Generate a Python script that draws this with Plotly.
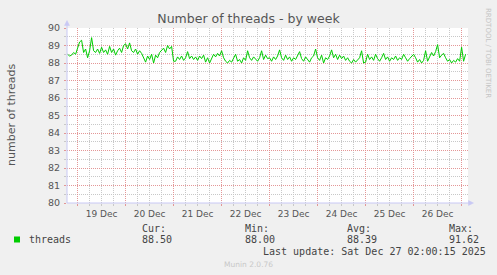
import plotly.graph_objects as go
import pandas as pd

# ---------------- data ----------------
series_name = "threads"
title_text = "Number of threads - by week"
y_title = "number of threads"
start_time = "2025-12-18 19:00"
values = [
    88.5, 88.4, 88.45, 88.6, 88.5,
    88.9, 89.2, 89.3, 88.6, 88.8, 88.3, 88.7, 89.45,
    88.7, 88.6, 88.8, 88.55, 88.9, 88.6, 88.75, 88.5, 88.95, 88.6, 88.8, 88.45, 88.7, 88.85, 88.6, 89.0,
    89.1, 88.8, 89.15, 88.7,
    88.6, 88.8, 88.5, 88.7, 88.55, 88.3, 88.05,
    88.4, 88.2, 88.5, 88.0, 88.45, 88.3, 88.6,
    88.7, 88.85, 88.6, 89.0, 88.8, 88.95,
    88.1,
    88.1, 88.35, 88.2, 88.4, 88.15, 88.3, 88.65, 88.25, 88.4, 88.2,
    88.35, 88.15, 88.4, 88.25, 88.45, 88.05, 88.3, 88.0, 88.25, 88.5,
    88.35, 88.55, 88.4, 88.7, 88.3, 88.1, 88.0, 88.15, 88.05, 88.3,
    88.5, 88.1, 88.2, 88.0, 88.3, 88.15, 88.7, 88.3, 88.15, 88.35,
    88.2, 88.1, 88.3, 88.7, 88.2, 88.45, 88.25, 88.3, 88.1, 88.35,
    88.2, 88.4, 88.75, 88.3, 88.15, 88.45, 88.2, 88.35, 88.1, 88.3,
    88.2, 88.4, 88.65, 88.25, 88.1, 88.35, 88.2, 88.05, 88.3, 88.4,
    88.8, 88.3, 88.15, 88.45, 88.0, 88.3, 88.2, 88.4, 88.75, 88.3,
    88.5, 88.2, 88.45, 88.25, 88.4, 88.15, 88.3, 88.1, 88.0, 88.2,
    88.05, 88.15, 88.3, 88.7, 88.0, 88.05, 88.5, 88.2, 88.35, 88.15,
    88.5, 88.25, 88.1, 88.3, 88.55, 88.2, 88.35, 88.1, 88.3, 88.2,
    88.4, 88.15, 88.3, 88.2, 88.5, 88.3, 88.1, 88.25, 88.35, 88.5,
    88.3, 88.05, 88.2, 88.0, 88.15, 88.7, 88.1, 88.35, 88.6, 88.4,
    88.65, 89.05, 88.3, 88.45, 88.55, 88.3, 88.1, 88.2, 88.0, 88.15,
    88.05, 88.25, 88.1, 88.9, 88.1, 88.5,
]
times = pd.date_range(start_time, periods=len(values), freq="h")
x_range = ["2025-12-18 18:42", "2025-12-27 03:12"]
y_range = [80, 90]
stat_labels = ["Cur:", "Min:", "Avg:", "Max:"]
stat_values = ["88.50", "88.00", "88.39", "91.62"]
last_update = "Last update: Sat Dec 27 02:00:15 2025"
version_text = "Munin 2.0.76"
watermark = "RRDTOOL / TOBI OETIKER"

# ---------------- layout helpers ----------------
W, H = 497, 275
L, R, T, B = 67, 29, 28, 72
PW, PH = W - L - R, H - T - B

def px(x):
    return (x - L) / PW

def py(y):
    return (H - B - y) / PH

LINE_GREEN = "#00CC00"
AXIS_COL = "#C8C8F4"
MAJOR_GRID = "rgba(225,140,140,0.9)"
MINOR_GRID = "#C8C8C8"
TXT = "#555555"
MONO = "DejaVu Sans Mono"
SANS = "DejaVu Sans"

fig = go.Figure()
fig.add_trace(go.Scatter(x=times, y=values, mode="lines", name=series_name,
                         line=dict(color=LINE_GREEN, width=1), showlegend=False,
                         hoverinfo="skip"))

fig.update_layout(
    width=W, height=H,
    margin=dict(l=L, r=R, t=T, b=B, pad=0),
    paper_bgcolor="#F0F0F0", plot_bgcolor="#FFFFFF",
    title=dict(text=title_text, x=0.5, xanchor="center", y=1 - 19 / H, yanchor="middle",
               font=dict(family=SANS, size=12.5, color=TXT)),
    font=dict(family=SANS, color=TXT),
    xaxis=dict(
        range=x_range, type="date",
        tick0="2025-12-19", dtick=86400000, tickformat="%d %b",
        ticklabelmode="period",
        showgrid=True, gridcolor=MAJOR_GRID, griddash="1px,1px", gridwidth=1,
        ticks="outside", ticklen=2, tickcolor=MAJOR_GRID,
        tickfont=dict(family=SANS, size=9, color=TXT),
        minor=dict(tick0="2025-12-19", dtick=6 * 3600000, showgrid=True,
                   gridcolor=MINOR_GRID, griddash="1px,1px", ticks="outside",
                   ticklen=2, tickcolor=MINOR_GRID),
        showline=False, zeroline=False, fixedrange=True,
    ),
    yaxis=dict(
        range=y_range, tick0=80, dtick=1,
        showgrid=True, gridcolor=MAJOR_GRID, griddash="1px,1px", gridwidth=1,
        ticks="outside", ticklen=2, tickcolor=MAJOR_GRID,
        tickfont=dict(family=SANS, size=9.5, color=TXT),
        minor=dict(dtick=0.5, showgrid=True, gridcolor=MINOR_GRID,
                   griddash="1px,1px", ticks="outside", ticklen=2, tickcolor=MINOR_GRID),
        showline=False, zeroline=False, fixedrange=True,
        ticklabelstandoff=2,
    ),
)

shapes = [
    # axes lines
    dict(type="line", xref="paper", yref="paper", x0=0, x1=0, y0=0, y1=py(24),
         line=dict(color=AXIS_COL, width=1)),
    dict(type="line", xref="paper", yref="paper", x0=0, x1=px(470), y0=0, y1=0,
         line=dict(color=AXIS_COL, width=1)),
    # arrow heads
    dict(type="path", xref="paper", yref="paper",
         path=f"M {px(64.5)} {py(25.5)} L {px(69.5)} {py(25.5)} L {px(67)} {py(20.5)} Z",
         fillcolor=AXIS_COL, line=dict(color=AXIS_COL, width=0.5)),
    dict(type="path", xref="paper", yref="paper",
         path=f"M {px(468.5)} {py(200.5)} L {px(468.5)} {py(205.5)} L {px(473.5)} {py(203)} Z",
         fillcolor=AXIS_COL, line=dict(color=AXIS_COL, width=0.5)),
    # legend swatch
    dict(type="rect", xref="paper", yref="paper",
         x0=px(14), x1=px(20), y0=py(242.5), y1=py(236.5),
         fillcolor=LINE_GREEN, line=dict(width=0)),
]
fig.update_layout(shapes=shapes)

ann = []
ann.append(dict(text=y_title, xref="paper", yref="paper", x=px(11), y=py(115),
                xanchor="center", yanchor="middle", textangle=-90, showarrow=False,
                font=dict(family=SANS, size=11, color=TXT)))
ann.append(dict(text=watermark, xref="paper", yref="paper", x=px(488), y=py(53),
                xanchor="center", yanchor="middle", textangle=90, showarrow=False,
                font=dict(family=SANS, size=7, color="#C4C4C4")))
ann.append(dict(text=series_name, xref="paper", yref="paper", x=px(26.5), y=py(239.5),
                xanchor="left", yanchor="middle", showarrow=False,
                font=dict(family=MONO, size=10, color="#444444")))
stat_x = [140.3, 242.7, 345, 446.7]
for sx, lab, val in zip(stat_x, stat_labels, stat_values):
    ann.append(dict(text=lab, xref="paper", yref="paper", x=px(sx), y=py(228.5),
                    xanchor="left", yanchor="middle", showarrow=False,
                    font=dict(family=MONO, size=10, color="#444444")))
    ann.append(dict(text=val, xref="paper", yref="paper", x=px(sx), y=py(239.5),
                    xanchor="left", yanchor="middle", showarrow=False,
                    font=dict(family=MONO, size=10, color="#444444")))
ann.append(dict(text=last_update, xref="paper", yref="paper", x=px(261), y=py(251),
                xanchor="left", yanchor="middle", showarrow=False,
                font=dict(family=MONO, size=10, color="#444444")))
ann.append(dict(text=version_text, xref="paper", yref="paper", x=px(248), y=py(264.5),
                xanchor="center", yanchor="middle", showarrow=False,
                font=dict(family=SANS, size=7.5, color="#C8C8C8")))
fig.update_layout(annotations=ann)

fig.write_html("out.html", config={"displayModeBar": False})
